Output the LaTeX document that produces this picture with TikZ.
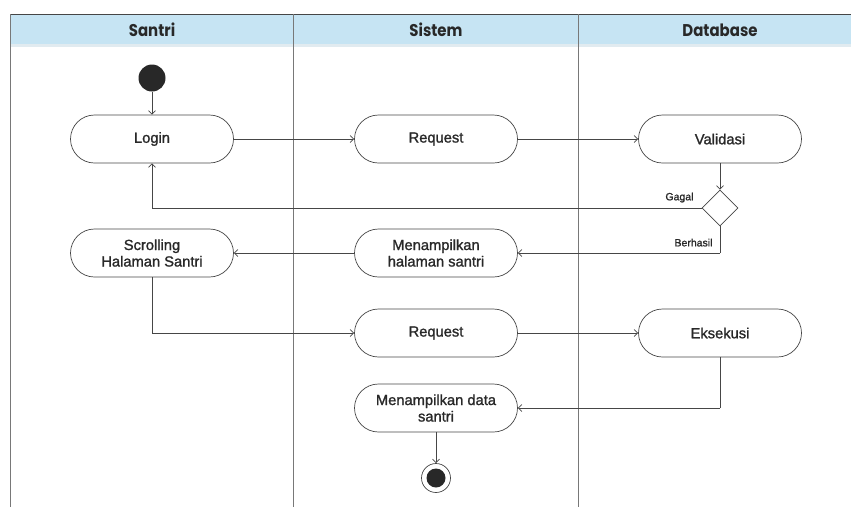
\documentclass[tikz,border=0pt]{standalone}
\usepackage{fontspec}
\setmainfont{Liberation Sans}
\newfontfamily\boxfont[FakeBold=1.3]{Liberation Sans}
\newfontfamily\headfont[FakeStretch=0.88]{Poppins}
\usetikzlibrary{arrows.meta,shapes.geometric}
\definecolor{headblue}{RGB}{198,228,243}
\definecolor{headstrip}{RGB}{225,235,240}
\definecolor{lanegray}{RGB}{120,120,120}
\definecolor{linegray}{RGB}{70,70,70}
\definecolor{txt}{RGB}{40,40,40}
\tikzset{
  act/.style={draw=linegray, line width=0.7pt, rounded corners=24pt, minimum width=163pt, minimum height=48pt, align=center, font=\boxfont\fontsize{14.7}{16.5}\selectfont, text=txt},
  flow/.style={draw=linegray, line width=0.7pt, -{Straight Barb[length=3.5pt,width=7pt]}},
  flowplain/.style={draw=linegray, line width=0.7pt},
  lbl/.style={font=\boxfont\fontsize{10.5}{12}\selectfont, text=txt},
  hd/.style={font=\headfont\bfseries\fontsize{17}{20}\selectfont, text=txt},
}
\begin{document}
\begin{tikzpicture}[x=1pt,y=-1pt]
\useasboundingbox (0,0) rectangle (851,507);
% header
\fill[headblue] (10,14) rectangle (851,44);
\fill[headstrip] (10,44) rectangle (851,47);
\draw[linegray, line width=0.8pt] (10,14) -- (851,14);
\draw[lanegray, line width=0.6pt] (10,14) -- (10,507);
\draw[lanegray, line width=0.6pt] (293,14) -- (293,507);
\draw[lanegray, line width=0.6pt] (578,14) -- (578,507);
\node[hd] (h1) at (152,30) {Santri};
\node[hd] (h2) at (436,30) {Sistem};
\node[hd] (h3) at (720,30) {Database};
% nodes
\node[circle, fill=txt, minimum size=27pt, inner sep=0] (start) at (152,78) {};
\node[act] (login) at (152,139) {Login};
\node[act] (req1) at (436,139) {Request};
\node[act] (valid) at (720,139) {Validasi};
\node[diamond, draw=linegray, line width=0.7pt, fill=white, minimum width=36pt, minimum height=36pt, inner sep=0] (dec) at (720,208) {};
\node[act] (scroll) at (152,253) {Scrolling\\Halaman Santri};
\node[act] (menhal) at (436,253) {Menampilkan\\halaman santri};
\node[act] (req2) at (436,333) {Request};
\node[act] (eks) at (720,333) {Eksekusi};
\node[act] (mendata) at (436,408) {Menampilkan data\\santri};
\node[circle, draw=linegray, line width=0.7pt, minimum size=29pt, inner sep=0] (endo) at (436,478) {};
\node[circle, fill=txt, minimum size=19pt, inner sep=0] (endi) at (436,478) {};
\coordinate (g1) at (152,208);
\coordinate (b1) at (720,253);
\coordinate (s1) at (152,333);
\coordinate (e1) at (720,408);
% connectors
\draw[flow] (start) -- (login);
\draw[flow] (login) -- (req1);
\draw[flow] (req1) -- (valid);
\draw[flow] (valid) -- (dec.north);
\draw[flowplain] (dec.west) -- (g1);
\draw[flow] (g1) -- (login.south);
\draw[flowplain] (dec.south) -- (b1);
\draw[flow] (b1) -- (menhal.east);
\draw[flow] (menhal) -- (scroll);
\draw[flowplain] (scroll.south) -- (s1);
\draw[flow] (s1) -- (req2.west);
\draw[flow] (req2) -- (eks);
\draw[flowplain] (eks.south) -- (e1);
\draw[flow] (e1) -- (mendata.east);
\draw[flow] (mendata) -- (endo);
\node[lbl, anchor=south east] (lg) at (697,206) {Gagal};
\node[lbl, anchor=south east] (lb) at (716,250) {Berhasil};
\end{tikzpicture}
\end{document}
